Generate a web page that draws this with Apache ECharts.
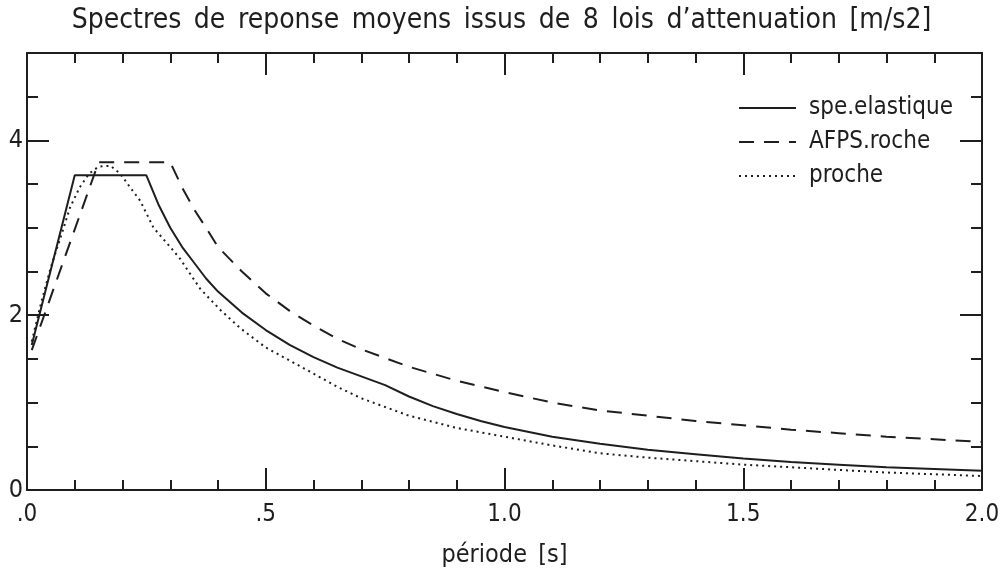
<!DOCTYPE html>
<html>
<head>
<meta charset="utf-8">
<script src="https://cdn.jsdelivr.net/npm/echarts@6/dist/echarts.min.js"></script>
<style>
  html, body { margin: 0; padding: 0; background: #fff; }
  #chart { width: 1003px; height: 574px; }
</style>
</head>
<body>
<div id="chart"></div>
<script>
// periods [s] and spectral values [m/s2]
var periodsElastique = [0.01, 0.1, 0.25, 0.275, 0.3, 0.325, 0.35, 0.375, 0.4, 0.45, 0.5, 0.55, 0.6, 0.65, 0.7, 0.75, 0.8, 0.85, 0.9, 0.95, 1.0, 1.1, 1.2, 1.3, 1.4, 1.5, 1.6, 1.7, 1.8, 1.9, 2.0];
var valuesElastique = [1.66, 3.6, 3.6, 3.27, 3.0, 2.78, 2.6, 2.42, 2.27, 2.03, 1.83, 1.66, 1.52, 1.4, 1.3, 1.2, 1.07, 0.96, 0.87, 0.79, 0.72, 0.61, 0.53, 0.46, 0.41, 0.36, 0.32, 0.29, 0.26, 0.24, 0.22];

var periodsAfps = [0.01, 0.15, 0.3, 0.325, 0.35, 0.375, 0.4, 0.45, 0.5, 0.55, 0.6, 0.65, 0.7, 0.8, 0.9, 1.0, 1.1, 1.2, 1.3, 1.4, 1.5, 1.6, 1.7, 1.8, 1.9, 2.0];
var valuesAfps = [1.6, 3.75, 3.75, 3.46, 3.21, 3.0, 2.78, 2.5, 2.25, 2.05, 1.88, 1.73, 1.61, 1.41, 1.25, 1.12, 1.0, 0.91, 0.85, 0.79, 0.74, 0.69, 0.65, 0.61, 0.58, 0.55];

var periodsProche = [0.01, 0.03, 0.05, 0.075, 0.09, 0.11, 0.13, 0.15, 0.175, 0.195, 0.215, 0.237, 0.265, 0.3, 0.32, 0.363, 0.405, 0.447, 0.5, 0.574, 0.65, 0.7, 0.75, 0.8, 0.9, 1.0, 1.1, 1.2, 1.3, 1.4, 1.5, 1.6, 1.7, 1.8, 1.9, 2.0];
var valuesProche = [1.7, 2.15, 2.55, 2.97, 3.23, 3.46, 3.62, 3.7, 3.71, 3.62, 3.47, 3.31, 3.0, 2.78, 2.65, 2.3, 2.06, 1.85, 1.63, 1.41, 1.18, 1.05, 0.95, 0.85, 0.71, 0.61, 0.51, 0.42, 0.37, 0.33, 0.29, 0.26, 0.23, 0.2, 0.18, 0.16];

var xTickValues = [0, 0.5, 1, 1.5, 2];
var xTickLabels = ['.0', '.5', '1.0', '1.5', '2.0'];
var yTickValues = [0, 2, 4];
var yTickLabels = ['0', '2', '4'];

var seriesNames = ['spe.elastique', 'AFPS.roche', 'proche'];

function pairs(xs, ys) {
  var out = [];
  for (var i = 0; i < xs.length; i++) out.push([xs[i], ys[i]]);
  return out;
}

var ink = '#1e1e1e';
var font = "'DejaVu Sans Condensed', 'Liberation Sans Narrow', sans-serif";

function xAxisDef(pos, showLabel) {
  return {
    type: 'value', position: pos, min: 0, max: 2, interval: 0.5,
    axisLine: { show: true, onZero: false, lineStyle: { color: ink, width: 2 } },
    axisTick: { show: true, inside: true, length: 22, lineStyle: { color: ink, width: 2 } },
    minorTick: { show: true, splitNumber: 5, length: 10, lineStyle: { color: ink, width: 2 } },
    splitLine: { show: false }, minorSplitLine: { show: false },
    axisLabel: {
      show: showLabel, margin: 13, fontSize: 24, color: ink, fontFamily: font,
      formatter: function (v) {
        var i = xTickValues.indexOf(Math.round(v * 10) / 10);
        return i >= 0 ? xTickLabels[i] : '';
      }
    },
    name: showLabel ? 'période\u2002[s]' : '', nameLocation: 'middle', nameGap: 53,
    nameTextStyle: { fontSize: 25, color: ink, fontFamily: font }
  };
}

function yAxisDef(pos, interval, len, showLabel, showLine) {
  return {
    type: 'value', position: pos, min: 0, max: 5, interval: interval,
    axisLine: { show: showLine, onZero: false, lineStyle: { color: ink, width: 2 } },
    axisTick: { show: true, inside: true, length: len, lineStyle: { color: ink, width: 2 } },
    splitLine: { show: false },
    axisLabel: {
      show: showLabel, margin: 4, fontSize: 25, color: ink, fontFamily: font,
      formatter: function (v) {
        var i = yTickValues.indexOf(v);
        return i >= 0 ? yTickLabels[i] : '';
      }
    }
  };
}

var chart = echarts.init(document.getElementById('chart'));
var option = {
  backgroundColor: '#fff',
  animation: false,
  title: {
    text: 'Spectres\u2002de\u2002reponse\u2002moyens\u2002issus\u2002de\u20028\u2002lois\u2002d’attenuation\u2002[m/s2]',
    left: 'center', top: 2,
    textStyle: { fontSize: 28, fontWeight: 'normal', color: ink, fontFamily: font }
  },
  grid: { left: 27, right: 21, top: 53, bottom: 84, outerBoundsMode: 'none' },
  legend: {
    orient: 'vertical', left: 733, top: 91,
    itemWidth: 57, itemHeight: 14, itemGap: 10,
    data: seriesNames,
    itemStyle: { opacity: 0 },
    textStyle: { fontSize: 24, lineHeight: 24, color: ink, fontFamily: font, padding: [0, 0, 0, 8] }
  },
  xAxis: [xAxisDef('bottom', true), xAxisDef('top', false)],
  yAxis: [
    yAxisDef('left', 0.5, 11, true, true),
    yAxisDef('left', 2, 22, false, false),
    yAxisDef('right', 0.5, 11, false, true),
    yAxisDef('right', 2, 22, false, false)
  ],
  series: [
    {
      name: seriesNames[0], type: 'line', symbol: 'none', silent: true,
      data: pairs(periodsElastique, valuesElastique),
      lineStyle: { color: ink, width: 2, type: 'solid' }, itemStyle: { color: ink }
    },
    {
      name: seriesNames[1], type: 'line', symbol: 'none', silent: true,
      data: pairs(periodsAfps, valuesAfps),
      lineStyle: { color: ink, width: 2, type: [15, 10] }, itemStyle: { color: ink }
    },
    {
      name: seriesNames[2], type: 'line', symbol: 'none', silent: true,
      data: pairs(periodsProche, valuesProche),
      lineStyle: { color: ink, width: 2, type: [2, 4] }, itemStyle: { color: ink }
    }
  ]
};
chart.setOption(option);
</script>
</body>
</html>
